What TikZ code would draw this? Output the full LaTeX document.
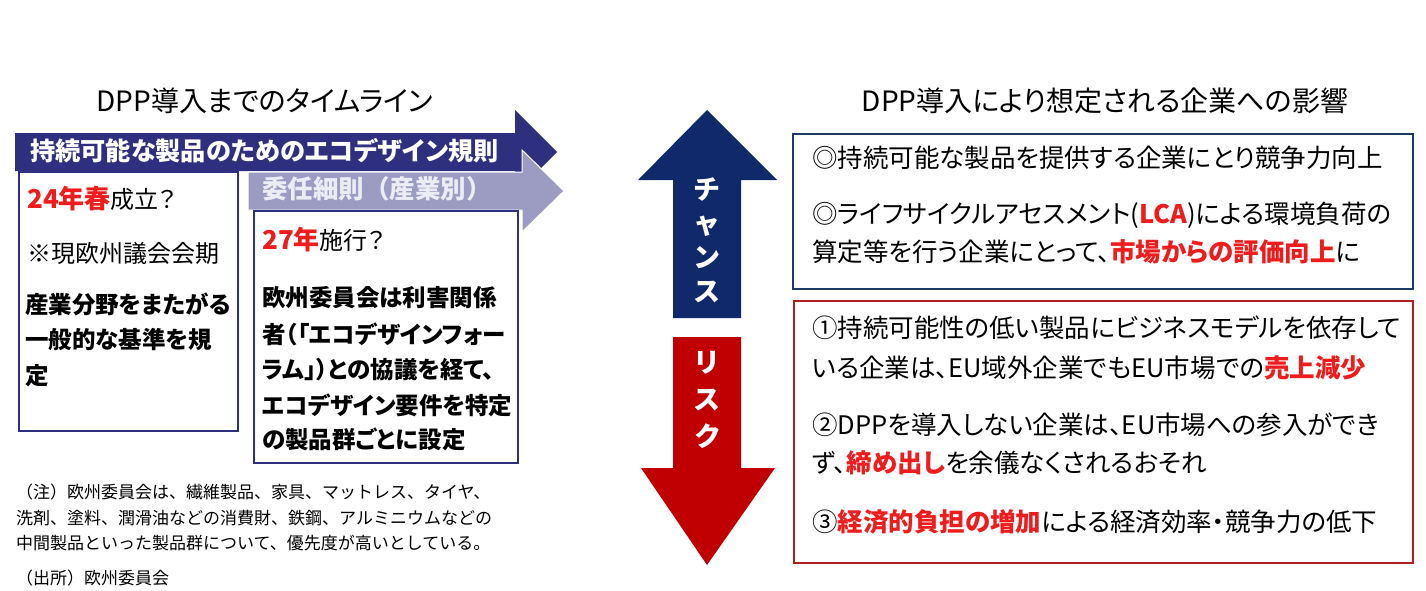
\documentclass[tikz,border=0pt]{standalone}
\usepackage{fontspec}
\setmainfont{Noto Sans CJK JP}[RawFeature=+palt]
\newfontfamily\fullw{Noto Sans CJK JP}
\usetikzlibrary{positioning}
\definecolor{navy}{HTML}{2E2F7F}
\definecolor{lavender}{HTML}{9C9CC3}
\definecolor{lavtext}{HTML}{ECECF4}
\definecolor{hired}{HTML}{EE1C1C}
\definecolor{chanceblue}{HTML}{10296A}
\definecolor{riskred}{HTML}{C00000}
\definecolor{boxblue}{HTML}{1F3864}
\definecolor{boxred}{HTML}{B01E23}
\newcommand{\emr}[1]{\textcolor{hired}{\bfseries #1}}

\begin{document}
\begin{tikzpicture}[
x=1pt,y=-1pt,
title/.style={
  inner sep=0pt,
  font=\fontsize{28}{32}\selectfont
},
line/.style={
  anchor=west,
  inner sep=0pt,
  font=\fontsize{24}{28}\selectfont
},
bline/.style={
  line,
  font=\fontsize{23.5}{28}\selectfont\bfseries
},
rline/.style={
  line,
  font=\fontsize{25.5}{30}\selectfont
},
note/.style={
  anchor=west,
  inner sep=0pt,
  font=\fullw\fontsize{17}{22}\selectfont
},
panel/.style={
  draw,
  anchor=north west,
  inner sep=0pt,
  line width=2pt
},
updown/.style={
  align=center,
  inner sep=0pt,
  text=white,
  font=\fontsize{27}{34}\selectfont\bfseries
}
]
\useasboundingbox (0,0) rectangle (1426,590);

% timeline
\node[title] (ltitle) at (265,101) {DPP導入までのタイムライン};

\fill[navy] (15,133) -- (515,133) -- (515,110) -- (557,152)
  -- (515,194) -- (515,171) -- (15,171) -- cycle;
\node[line,text=white,font=\fontsize{25.2}{28}\selectfont\bfseries] (rule) at (30,151)
  {持続可能な製品のためのエコデザイン規則};

\filldraw[lavender,draw=white,line width=1pt] (248,172) -- (522,172) -- (522,150) -- (564,191)
  -- (522,232) -- (522,210) -- (248,210) -- cycle;
\node[line,text=lavtext,font=\fullw\fontsize{25.5}{28}\selectfont\bfseries] (deleg) at (262,189)
  {委任細則（産業別）};

\node[panel,draw=navy,fill=white,minimum width=219,minimum height=259] (lbox) at (18,171) {};
\node[panel,draw=navy,fill=white,minimum width=264,minimum height=252] (rbox) at (253,210) {};

\node[line] (l1) at (27,199) {\emr{\fontsize{26}{28}\selectfont 24年春}成立？};
\node[line] (l2) at (27,253) {※現欧州議会会期};
\node[bline] (l3) at (25,304) {産業分野をまたがる};
\node[bline] (l4) at (25,340) {一般的な基準を規};
\node[bline] (l5) at (25,376) {定};

\node[line] (r1) at (262,240) {\emr{\fontsize{26}{28}\selectfont 27年}施行？};
\node[bline] (r2) at (262,298) {欧州委員会は利害関係};
\node[bline] (r3) at (262,334) {者（「エコデザインフォー};
\node[bline] (r4) at (262,370) {ラム」）との協議を経て、};
\node[bline] (r5) at (262,405) {エコデザイン要件を特定};
\node[bline] (r6) at (262,439) {の製品群ごとに設定};

\node[note] (n1) at (16,492) {（注）欧州委員会は、繊維製品、家具、マットレス、タイヤ、};
\node[note] (n2) at (16,518) {洗剤、塗料、潤滑油などの消費財、鉄鋼、アルミニウムなどの};
\node[note] (n3) at (16,543) {中間製品といった製品群について、優先度が高いとしている。};
\node[note] (n4) at (16,578) {（出所）欧州委員会};

% chance / risk
\fill[chanceblue] (707,110) -- (777,180) -- (741,180) -- (741,318)
  -- (673,318) -- (673,180) -- (638,180) -- cycle;
\node[updown] (chance) at (707,240) {チ\\ャ\\ン\\ス};

\fill[riskred] (673,337) -- (741,337) -- (741,468) -- (775,468)
  -- (707,565) -- (641,468) -- (673,468) -- cycle;
\node[updown,font=\fontsize{27}{37}\selectfont\bfseries] (risk) at (707,400) {リ\\ス\\ク};

% impact
\node[title] (rtitle) at (1105,101) {DPP導入により想定される企業への影響};

\node[panel,draw=boxblue,minimum width=620,minimum height=155] (cbox) at (792,133) {};
\node[rline] (c1) at (812,158) {◎持続可能な製品を提供する企業にとり競争力向上};
\node[rline] (c2) at (812,215) {◎ライフサイクルアセスメント(\emr{LCA})による環境負荷の};
\node[rline] (c3) at (812,252) {算定等を行う企業にとって、\emr{市場からの評価向上}に};

\node[panel,draw=boxred,minimum width=619,minimum height=262] (kbox) at (793,300) {};
\node[rline] (k1) at (812,328) {①持続可能性の低い製品にビジネスモデルを依存して};
\node[rline] (k2) at (812,368) {いる企業は、EU域外企業でもEU市場での\emr{売上減少}};
\node[rline] (k3) at (812,425) {②DPPを導入しない企業は、EU市場への参入ができ};
\node[rline] (k4) at (812,463) {ず、\emr{締め出し}を余儀なくされるおそれ};
\node[rline] (k5) at (812,522) {③\emr{経済的負担の増加}による経済効率・競争力の低下};
\end{tikzpicture}
\end{document}
